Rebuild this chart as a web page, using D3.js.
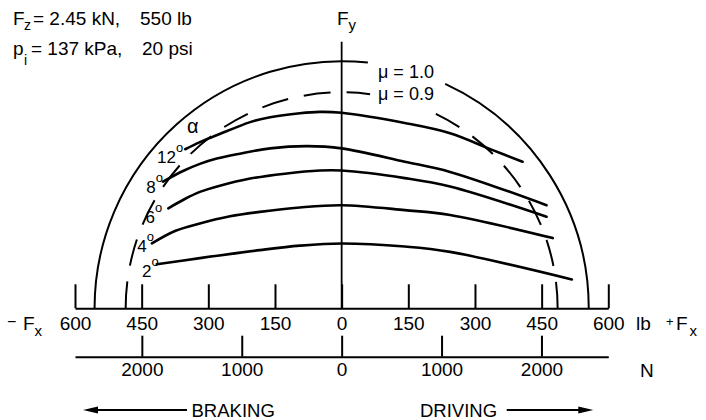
<!DOCTYPE html>
<html><head><meta charset="utf-8">
<script src="https://cdn.jsdelivr.net/npm/d3@7"></script>
<style>
body{margin:0;background:#fff}
svg{display:block;background:#fff}
text{font-family:"Liberation Sans",Arial,Helvetica,sans-serif;fill:#000}
</style></head><body>
<svg id="chart" width="706" height="420"></svg>
<script>
// ---- data (lb) ----
const slipAngles = [12, 8, 6, 4, 2];
const fx12 = [-352, -319, -280, -240, -206, -161, -94, -49, 0, 142, 244, 340, 407];
const fy12 = [358, 374, 390, 406, 419, 430, 439, 442, 440, 417, 394, 356, 330];
const fx8 = [-402, -357, -319, -281, -229, -161, -78, 0, 142, 244, 461];
const fy8 = [285, 309, 325, 337, 348, 360, 365, 360, 330, 307, 232];
const fx6 = [-390, -353, -319, -274, -206, -128, -49, 0, 142, 244, 461];
const fy6 = [225, 246, 262, 276, 292, 303, 310, 310, 293, 274, 206];
const fx4 = [-427, -375, -319, -251, -184, -94, 0, 142, 244, 475];
const fy4 = [146, 174, 191, 207, 217, 227, 232, 221, 210, 158];
const fx2 = [-416, -319, -184, -94, 0, 142, 244, 518];
const fy2 = [99, 113, 131, 141, 146, 139, 127, 65];
const muValues = [1.0, 0.9];
const muRadiusLb = [556, 486];
const lbTicks = [-600, -450, -300, -150, 0, 150, 300, 450, 600];
const nTicks = [-2000, -1000, 0, 1000, 2000];
const lbPerN = 0.2248;

const curvesFx = [fx12, fx8, fx6, fx4, fx2];
const curvesFy = [fy12, fy8, fy6, fy4, fy2];

// ---- layout ----
const svg = d3.select("#chart");
const x = d3.scaleLinear().domain([-600, 600]).range([75, 608.3]);
const y = d3.scaleLinear().domain([0, 600]).range([308.3, 41.7]);
const xN = d3.scaleLinear().domain([-600 / lbPerN, 600 / lbPerN]).range([75, 608.3]);
const pxPerLb = x(1) - x(0);

// friction circles, broken where the mu labels sit (gap given in Fx lb)
const labelGapLb = [[59, 233], [64, 212]];
muValues.forEach((mu, i) => {
  const r = muRadiusLb[i] * pxPerLb;
  const cx = x(0), cy = y(0);
  const a1 = 2 * Math.PI - Math.acos(labelGapLb[i][0] / muRadiusLb[i]);
  const a2 = 2 * Math.PI - Math.acos(labelGapLb[i][1] / muRadiusLb[i]);
  const p = d3.path();
  p.moveTo(cx - r, cy);
  p.arc(cx, cy, r, Math.PI, a1);
  p.moveTo(cx + r * Math.cos(a2), cy + r * Math.sin(a2));
  p.arc(cx, cy, r, a2, 2 * Math.PI);
  svg.append("path").attr("d", p.toString())
    .attr("fill", "none").attr("stroke", "#000")
    .attr("stroke-width", 2)
    .attr("stroke-dasharray", i === 0 ? null : "27,16");
});

// Fy axis
svg.append("line").attr("x1", x(0)).attr("x2", x(0))
  .attr("y1", y(0)).attr("y2", y(600))
  .attr("stroke", "#000").attr("stroke-width", 1.8);

// slip-angle curves
const line = d3.line().x(d => x(d[0])).y(d => y(d[1])).curve(d3.curveCatmullRom.alpha(0.5));
curvesFx.forEach((fx, i) => {
  const pts = fx.map((v, j) => [v, curvesFy[i][j]]);
  svg.append("path").attr("d", line(pts))
    .attr("fill", "none").attr("stroke", "#000").attr("stroke-width", 2.6)
    .attr("stroke-linecap", "round");
});

// slip-angle labels (anchored at end, near curve start)
const labelOffsets = [[-2, 14], [0, 11.5], [-6, 15], [2, 8.5], [2, 12.5]];
slipAngles.forEach((a, i) => {
  const t = svg.append("text")
    .attr("x", x(curvesFx[i][0]) + labelOffsets[i][0])
    .attr("y", y(curvesFy[i][0]) + labelOffsets[i][1])
    .attr("text-anchor", "end").attr("font-size", 17);
  t.append("tspan").text(a);
  t.append("tspan").attr("font-size", 13).attr("dy", -11).text("o");
});
svg.append("text").attr("x", 187).attr("y", 133).attr("font-size", 20).text("α");

// lb axis
const gLb = svg.append("g").attr("transform", `translate(0,${y(0)})`)
  .call(d3.axisBottom(x).tickValues(lbTicks).tickSize(-24).tickSizeOuter(0)
    .tickPadding(8).tickFormat(d => Math.abs(d)));
gLb.attr("font-size", 19).attr("font-family", null);
gLb.selectAll("path,line").attr("stroke", "#000").attr("stroke-width", 2);

// N axis
const gN = svg.append("g").attr("transform", "translate(0,356.7)")
  .call(d3.axisBottom(xN).tickValues(nTicks).tickSize(-21).tickSizeOuter(0)
    .tickPadding(6).tickFormat(d => Math.abs(d)));
gN.attr("font-size", 19).attr("font-family", null);
gN.selectAll("path,line").attr("stroke", "#000").attr("stroke-width", 2);

// axis titles
function txt(xp, yp, s, fs) {
  return svg.append("text").attr("x", xp).attr("y", yp).attr("font-size", fs).text(s);
}
txt(7, 327, "−", 16);
txt(23, 330, "F", 19);
txt(34.5, 336, "x", 15);
txt(636, 330, "lb", 19);
txt(666, 326, "+", 13);
txt(676, 330, "F", 19);
txt(689.5, 336, "x", 15);
txt(640, 377, "N", 19);

// Fy title
txt(337, 25, "F", 19);
txt(348.5, 30, "y", 15);

// mu labels
txt(378, 78, "μ = 1.0", 18);
txt(378, 100, "μ = 0.9", 18);

// top-left conditions
txt(13, 25, "F", 19);
txt(24, 30, "z", 14);
txt(33, 25, "= 2.45 kN,", 19);
txt(140, 25, "550 lb", 19);
txt(13, 55, "p", 19);
txt(24, 65, "i", 14);
txt(31, 55, "= 137 kPa,", 19);
txt(142, 55, "20 psi", 19);

// braking / driving arrows
svg.append("line").attr("x1", 90).attr("x2", 187).attr("y1", 410).attr("y2", 410)
  .attr("stroke", "#000").attr("stroke-width", 1.8);
svg.append("path").attr("d", "M83,410L98,406.5L98,413.5Z").attr("fill", "#000");
txt(191.5, 416.5, "BRAKING", 18.5);
txt(420, 416.5, "DRIVING", 18.5);
svg.append("line").attr("x1", 506.7).attr("x2", 586).attr("y1", 410).attr("y2", 410)
  .attr("stroke", "#000").attr("stroke-width", 1.8);
svg.append("path").attr("d", "M593.3,410L578.3,406.5L578.3,413.5Z").attr("fill", "#000");
</script>
</body></html>
